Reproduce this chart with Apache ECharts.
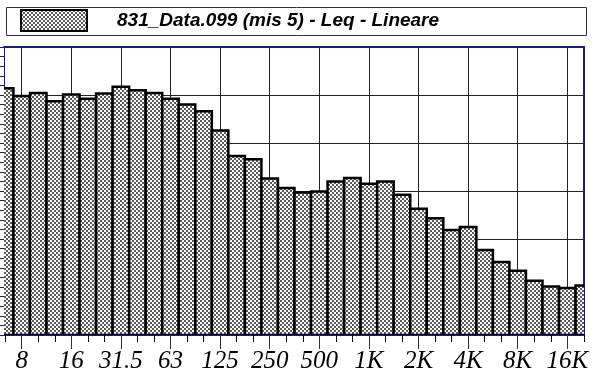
<!DOCTYPE html>
<html><head><meta charset="utf-8">
<script src="https://cdn.jsdelivr.net/npm/echarts@6/dist/echarts.min.js"></script>
<style>html,body{margin:0;padding:0;background:#fff}#c{width:594px;height:379px}</style>
</head><body><div id="c"></div>
<script>
// 1/3-octave bands (index 0 = 8 Hz)
const bands = ['6.3','8','10','12.5','16','20','25','31.5','40','50','63','80','100','125','160','200','250','315','400','500','630','800','1K','1.25K','1.6K','2K','2.5K','3.15K','4K','5K','6.3K','8K','10K','12.5K','16K','20K'];
const bandIndex = [-1,0,1,2,3,4,5,6,7,8,9,10,11,12,13,14,15,16,17,18,19,20,21,22,23,24,25,26,27,28,29,30,31,32,33,34];
const levels = [51.4,49.8,50.4,48.7,50.1,49.2,50.3,51.7,51.0,50.4,49.2,48.0,46.6,42.6,37.3,36.6,32.6,30.6,29.7,29.9,32.0,32.7,31.5,32.0,29.2,26.3,24.3,21.9,22.5,17.7,15.2,13.4,11.3,10.1,9.8,10.3];
const tickLabels = ['8','16','31.5','63','125','250','500','1K','2K','4K','8K','16K'];
const tickIndex = [0,3,6,9,12,15,18,21,24,27,30,33];
const seriesName = '831_Data.099 (mis 5) - Leq - Lineare';

const XMIN = -1.07, XMAX = 34.01;

const cv = document.createElement('canvas');
cv.width = 4; cv.height = 4;
const cx = cv.getContext('2d');
cx.fillStyle = '#ffffff'; cx.fillRect(0,0,4,4);
cx.fillStyle = '#5a5a5a'; cx.fillRect(0,0,2,2); cx.fillRect(2,2,2,2);
const pattern = {image: cv, repeat: 'repeat'};

const navy = '#1a1a80';
const allTicks = bandIndex.filter(v => v >= XMIN && v <= XMAX);

const chart = echarts.init(document.getElementById('c'), null, {renderer: 'canvas'});
chart.setOption({
  animation: false,
  backgroundColor: '#fff',
  graphic: [{
    type: 'rect', left: 4, top: 5, z: 0,
    shape: {width: 580, height: 28},
    style: {fill: 'none', stroke: '#333', lineWidth: 1}
  }],
  legend: {
    left: 20, top: 9, padding: 0,
    itemWidth: 66, itemHeight: 21,
    icon: 'rect',
    itemStyle: {color: pattern, borderColor: '#000', borderWidth: 2},
    textStyle: {fontFamily: 'Liberation Sans', fontStyle: 'italic', fontWeight: 'bold', fontSize: 19, color: '#000', padding: [0,0,0,25]},
    data: [seriesName]
  },
  grid: {left: 4, right: 10, top: 47, bottom: 44, containLabel: false},
  xAxis: [
    {
      type: 'value', min: XMIN, max: XMAX, position: 'bottom',
      axisLine: {show: true, onZero: false, lineStyle: {color: navy, width: 1}},
      axisTick: {show: true, length: 7, customValues: allTicks, lineStyle: {color: '#000'}},
      axisLabel: {show: false},
      splitLine: {show: false}
    },
    {
      type: 'value', min: XMIN, max: XMAX, position: 'bottom',
      axisLine: {show: false, onZero: false},
      axisTick: {show: true, length: 14, customValues: tickIndex, lineStyle: {color: '#333'}},
      axisLabel: {show: true, customValues: tickIndex, margin: 14,
        formatter: v => tickLabels[tickIndex.indexOf(Math.round(v))] || '',
        fontFamily: 'Liberation Serif', fontStyle: 'italic', fontSize: 25, color: '#000'},
      splitLine: {show: true, lineStyle: {color: '#222', width: 1}}
    },
    {
      type: 'value', min: XMIN, max: XMAX, position: 'top',
      axisLine: {show: true, onZero: false, lineStyle: {color: navy, width: 2}},
      axisTick: {show: false}, axisLabel: {show: false}, splitLine: {show: false}
    }
  ],
  yAxis: [
    {
      type: 'value', min: 0, max: 60, interval: 10, position: 'left',
      axisLine: {show: true, onZero: false, lineStyle: {color: navy, width: 1}},
      axisTick: {show: true, length: 4, lineStyle: {color: navy}},
      minorTick: {show: true, splitNumber: 5, length: 4, lineStyle: {color: navy}},
      axisLabel: {show: false},
      splitLine: {show: true, lineStyle: {color: '#222', width: 1}}
    },
    {
      type: 'value', min: 0, max: 60, interval: 10, position: 'right',
      axisLine: {show: true, onZero: false, lineStyle: {color: navy, width: 2}},
      axisTick: {show: false}, axisLabel: {show: false}, splitLine: {show: false}
    }
  ],
  series: [{
    name: seriesName,
    type: 'custom',
    xAxisIndex: 0, yAxisIndex: 0,
    clip: true,
    itemStyle: {color: pattern, borderColor: '#000', borderWidth: 2},
    encode: {x: 0, y: 1},
    renderItem: function (params, api) {
      const b = api.value(0), v = api.value(1);
      const p0 = api.coord([b - 0.5, v]);
      const p1 = api.coord([b + 0.5, 0]);
      return {
        type: 'rect',
        shape: {x: p0[0], y: p0[1], width: p1[0] - p0[0], height: p1[1] - p0[1]},
        style: {fill: pattern, stroke: '#000', lineWidth: 2.5}
      };
    },
    data: bandIndex.map((b, i) => [b, levels[i]])
  }]
});
</script></body></html>
